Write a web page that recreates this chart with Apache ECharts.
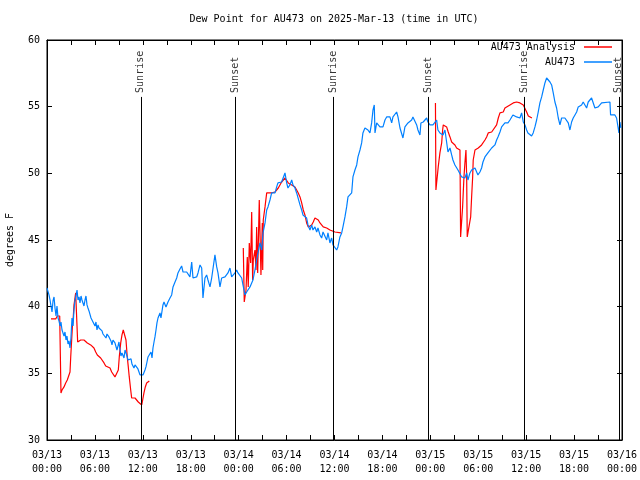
<!DOCTYPE html>
<html><head><meta charset="utf-8">
<script src="https://cdn.jsdelivr.net/npm/echarts@6/dist/echarts.min.js"></script>
<style>html,body{margin:0;padding:0;background:#fff}#c{width:640px;height:480px}</style>
</head><body><div id="c"></div>
<script>
const FONT = "'DejaVu Sans Mono', 'Liberation Mono', monospace";
const titleText = 'Dew Point for AU473 on 2025-Mar-13 (time in UTC)';
const yName = 'degrees F';
const seriesNames = ['AU473 Analysis', 'AU473'];
// time = hours since 03/13 00:00 UTC, value = dew point (F)
const au473 = [[0.00,41.40],[0.25,40.88],[0.38,40.50],[0.50,40.05],[0.63,39.60],[0.75,40.43],[0.88,40.73],[1.00,39.90],[1.13,39.30],[1.25,40.05],[1.38,39.15],[1.50,38.93],[1.63,38.55],[1.75,38.85],[1.88,38.25],[2.00,38.03],[2.13,37.80],[2.25,38.10],[2.38,37.50],[2.50,37.80],[2.63,37.20],[2.75,37.43],[2.88,36.90],[3.00,37.65],[3.13,39.15],[3.26,38.55],[3.38,39.75],[3.51,40.50],[3.63,40.80],[3.76,41.25],[3.88,40.50],[4.01,40.73],[4.13,40.28],[4.26,40.80],[4.38,40.50],[4.51,40.35],[4.63,40.05],[4.76,40.50],[4.88,40.80],[5.01,40.13],[5.13,39.90],[5.26,39.68],[5.38,39.53],[5.51,39.15],[5.63,39.30],[5.76,38.85],[5.88,39.00],[6.01,38.55],[6.13,38.85],[6.26,38.25],[6.39,38.63],[6.51,38.40],[6.64,38.25],[6.76,38.55],[6.89,38.18],[7.01,37.95],[7.14,37.80],[7.26,38.03],[7.39,37.65],[7.51,37.95],[7.64,38.03],[7.76,37.73],[7.89,37.88],[8.01,37.43],[8.14,37.13],[8.26,37.50],[8.39,37.65],[8.51,37.28],[8.64,37.20],[8.76,36.75],[8.89,37.05],[9.01,37.35],[9.14,36.75],[9.26,36.30],[9.39,36.53],[9.52,36.68],[9.64,36.15],[9.77,36.75],[9.89,36.60],[10.02,36.30],[10.14,36.00],[10.27,36.15],[10.39,35.85],[10.52,36.08],[10.64,35.70],[10.77,35.85],[10.89,35.40],[11.02,35.63],[11.14,35.48],[11.27,35.55],[11.39,35.33],[11.52,35.10],[11.64,34.88],[11.77,34.95],[11.89,35.03],[12.02,34.88],[12.14,34.95],[12.27,35.25],[12.39,35.48],[12.52,35.85],[12.65,36.23],[12.77,36.15],[12.90,36.38],[13.02,36.60],[13.15,36.15],[13.27,36.90],[13.40,37.35],[13.52,37.73],[13.65,38.25],[13.77,38.78],[13.90,39.15],[14.02,39.30],[14.15,39.53],[14.27,39.15],[14.40,39.00],[14.52,40.13],[14.65,40.35],[14.77,40.50],[14.90,39.98],[15.02,40.13],[15.15,40.35],[15.40,40.65],[15.61,40.88],[15.78,41.48],[16.03,41.85],[16.24,42.15],[16.40,42.53],[16.65,42.83],[16.86,43.05],[17.03,42.60],[17.28,42.53],[17.49,42.60],[17.65,42.75],[17.90,42.23],[18.12,43.35],[18.28,42.15],[18.53,42.23],[18.74,42.23],[18.91,42.53],[19.16,43.13],[19.37,42.90],[19.53,40.65],[19.78,42.15],[19.99,42.38],[20.16,42.00],[20.41,41.48],[20.62,42.15],[20.78,42.15],[21.03,43.88],[21.25,42.98],[21.41,42.53],[21.66,41.48],[21.87,42.15],[22.04,42.23],[22.29,42.23],[22.50,42.23],[22.66,42.53],[22.91,42.90],[23.12,42.23],[23.29,42.38],[23.54,42.53],[23.75,42.75],[23.91,42.53],[24.16,42.53],[24.38,42.15],[24.54,41.63],[24.79,40.88],[25.00,41.10],[25.17,41.25],[25.42,41.48],[25.63,41.78],[25.79,42.00],[26.04,42.75],[26.25,43.50],[26.42,44.03],[26.67,44.78],[26.88,44.25],[27.05,45.53],[27.30,46.28],[27.51,47.25],[27.67,47.48],[27.92,48.00],[28.13,48.53],[28.30,48.60],[28.55,48.53],[28.76,48.98],[28.92,49.28],[29.17,49.13],[29.38,49.35],[29.55,49.50],[29.80,50.03],[30.01,49.28],[30.17,48.90],[30.42,49.13],[30.64,49.50],[30.80,49.13],[31.05,48.90],[31.26,48.53],[31.43,48.38],[31.68,47.63],[31.89,47.25],[32.05,46.88],[32.30,47.03],[32.51,46.65],[32.68,46.13],[32.93,45.75],[33.14,46.13],[33.30,45.75],[33.55,45.98],[33.77,45.60],[33.93,45.90],[34.18,45.38],[34.39,45.15],[34.56,45.60],[34.81,45.53],[35.02,45.00],[35.18,45.53],[35.43,44.78],[35.64,45.15],[35.81,44.63],[36.06,44.48],[36.27,44.25],[36.43,44.48],[36.68,45.23],[36.90,45.53],[37.06,45.98],[37.31,46.73],[37.52,47.48],[37.69,48.23],[37.94,48.38],[38.15,48.53],[38.31,49.73],[38.56,50.25],[38.78,50.63],[38.94,51.23],[39.19,51.75],[39.40,52.28],[39.56,53.03],[39.81,53.40],[40.03,53.48],[40.19,53.25],[40.44,53.03],[40.65,53.78],[40.82,54.75],[40.98,55.13],[41.07,53.03],[41.28,53.78],[41.44,53.78],[41.69,53.48],[41.90,53.40],[42.07,53.48],[42.32,54.00],[42.53,54.23],[42.69,54.38],[42.94,54.23],[43.16,53.78],[43.32,54.23],[43.57,54.38],[43.78,54.60],[43.95,54.23],[44.20,53.40],[44.41,53.25],[44.57,52.65],[44.82,53.48],[45.03,53.40],[45.20,53.78],[45.45,53.78],[45.66,54.00],[45.82,54.23],[46.07,54.23],[46.29,53.63],[46.45,53.25],[46.70,52.88],[46.82,53.78],[47.11,53.85],[47.33,53.78],[47.54,54.15],[47.70,53.85],[47.95,53.63],[48.16,53.48],[48.33,53.63],[48.58,53.48],[48.79,54.00],[48.95,53.25],[49.20,53.03],[49.42,53.03],[49.58,52.88],[49.83,53.25],[50.04,53.10],[50.21,51.60],[50.46,51.90],[50.67,51.38],[50.83,51.00],[51.08,50.63],[51.29,50.63],[51.46,50.25],[51.71,50.10],[51.92,49.73],[52.08,49.88],[52.33,49.65],[52.55,50.03],[52.71,49.50],[52.96,50.03],[53.17,50.25],[53.34,50.10],[53.59,50.40],[53.80,50.25],[53.96,49.88],[54.21,50.10],[54.42,50.40],[54.59,50.85],[54.84,51.23],[55.05,51.38],[55.21,51.53],[55.46,51.60],[55.68,51.90],[55.84,51.75],[56.09,52.13],[56.30,52.50],[56.47,52.73],[56.72,53.10],[56.93,53.48],[57.09,53.63],[57.34,53.78],[57.55,53.85],[57.72,53.78],[57.97,54.00],[58.18,54.15],[58.34,54.38],[58.59,54.38],[58.80,54.23],[58.97,54.38],[59.22,54.15],[59.43,54.53],[59.64,53.85],[59.85,53.63],[60.06,53.25],[60.22,53.03],[60.47,52.88],[60.68,52.80],[60.88,53.03],[61.10,53.48],[61.31,54.00],[61.51,54.60],[61.72,55.28],[61.94,55.73],[62.14,56.25],[62.35,56.78],[62.56,57.15],[62.76,57.00],[62.98,56.85],[63.19,56.63],[63.39,56.03],[63.60,55.35],[63.81,54.90],[64.02,54.15],[64.23,53.63],[64.44,54.15],[64.85,54.15],[65.07,54.15],[65.27,53.78],[65.48,53.25],[65.69,53.85],[65.89,54.15],[66.11,54.38],[66.32,54.60],[66.52,54.98],[66.73,55.13],[66.94,55.13],[67.14,55.35],[67.36,55.50],[67.57,54.90],[67.77,55.35],[67.98,55.35],[68.19,55.65],[68.40,55.73],[68.61,54.90],[68.82,54.98],[69.02,54.98],[69.45,55.28],[69.65,55.35],[70.49,55.35],[70.57,54.38],[71.11,54.38],[71.32,54.15],[71.52,53.40],[71.61,53.03],[71.74,53.85],[71.86,53.40]];
const au473Analysis = [[0.50,39.08],[1.09,39.08],[1.29,39.30],[1.59,39.30],[1.75,33.53],[1.88,33.75],[2.13,33.98],[2.34,34.28],[2.54,34.50],[2.75,34.50],[2.88,35.10],[2.97,36.23],[3.17,38.40],[3.29,39.23],[3.38,40.13],[3.47,40.50],[3.59,41.03],[3.79,41.03],[3.84,37.35],[4.01,37.35],[4.22,37.50],[4.63,37.50],[4.85,37.35],[5.05,37.28],[5.47,37.13],[5.67,36.98],[5.88,36.90],[6.10,36.60],[6.30,36.38],[6.51,36.30],[6.72,36.15],[6.92,36.00],[7.14,35.78],[7.35,35.55],[7.55,35.40],[7.89,35.40],[8.10,35.10],[8.51,34.73],[8.73,34.65],[8.93,35.25],[9.05,36.23],[9.23,37.28],[9.39,37.88],[9.55,38.25],[9.77,38.25],[9.89,37.50],[10.05,36.23],[10.18,35.48],[10.30,34.73],[10.48,33.75],[10.60,33.15],[11.02,33.15],[11.23,33.00],[11.43,32.85],[11.64,32.78],[11.86,32.63],[11.98,33.00],[12.14,33.53],[12.31,33.98],[12.48,34.28],[12.81,34.43],
 [18.00,null],
 [24.58,44.40],[24.70,40.35],[24.92,41.25],[25.08,43.73],[25.20,41.48],[25.33,44.78],[25.50,43.28],[25.63,47.10],[25.75,42.00],[25.83,43.50],[26.04,44.25],[26.17,42.75],[26.25,45.98],[26.38,42.53],[26.58,48.00],[26.79,42.38],[26.96,46.28],[27.01,42.75],[27.08,46.50],[27.30,47.48],[27.51,48.53],[27.71,48.53],[28.13,48.53],[28.55,48.60],[28.96,48.90],[29.38,49.35],[29.80,49.65],[30.01,49.50],[30.21,49.28],[30.42,49.35],[30.64,49.13],[31.05,48.98],[31.26,48.75],[31.46,48.53],[31.68,48.23],[31.89,47.78],[32.09,47.25],[32.30,46.88],[32.51,46.28],[32.72,45.98],[32.93,45.90],[33.14,46.13],[33.34,46.35],[33.55,46.65],[33.77,46.73],[33.97,46.50],[34.18,46.28],[34.39,46.13],[34.59,45.98],[35.02,45.90],[35.43,45.75],[36.06,45.60],[36.81,45.53],
 [42.00,null],
 [48.64,55.28],[48.70,48.75],[48.86,48.75],[48.99,50.48],[49.20,51.53],[49.42,52.28],[49.54,53.25],[49.62,53.63],[49.83,53.63],[50.04,53.48],[50.24,53.10],[50.46,52.73],[50.67,52.35],[50.87,52.28],[51.08,52.13],[51.29,51.90],[51.49,51.75],[51.71,51.75],[51.79,45.23],[51.92,45.23],[52.04,47.48],[52.21,49.73],[52.33,50.78],[52.46,51.75],[52.55,49.73],[52.62,45.23],[52.87,45.23],[53.05,46.73],[53.17,48.23],[53.30,49.73],[53.37,51.00],[53.59,51.75],[53.80,51.60],[54.00,51.90],[54.21,51.98],[54.42,52.13],[54.63,52.28],[54.84,52.50],[55.05,52.73],[55.25,53.03],[55.46,53.03],[55.68,53.10],[55.88,53.25],[56.30,53.63],[56.51,54.15],[56.72,54.53],[56.93,54.53],[57.13,54.60],[57.34,54.90],[57.55,54.98],[57.97,55.13],[58.38,55.28],[58.59,55.35],[58.80,55.35],[59.22,55.28],[59.64,55.13],[59.85,54.98],[60.06,54.60],[60.27,54.30],[60.47,54.15],[60.72,54.15]];
const sunTimes = [11.75, 23.6, 35.9, 47.7, 59.8, 71.6];
const sunLabels = ['Sunrise', 'Sunset', 'Sunrise', 'Sunset', 'Sunrise', 'Sunset'];
const sunLineTop = 55.73;
const sunLabelBase = 56.03;
const yMin = 30, yMax = 60, yStep = 5;
const xMin = 0, xMax = 72, xStep = 3;

function xLabel(v) {
  if (v % 6 !== 0) return '';
  const d = 13 + Math.floor(v / 24);
  const h = v % 24;
  return '03/' + d + '\n' + (h < 10 ? '0' : '') + h + ':00';
}

const chart = echarts.init(document.getElementById('c'), null, {renderer: 'canvas'});
const txt = {fontFamily: FONT, fontSize: 10, color: '#000'};
const axisCommon = {
  axisLine: {show: true, onZero: false, lineStyle: {color: '#000', width: 1}},
  axisTick: {show: true, inside: true, length: 5, lineStyle: {color: '#000'}},
  splitLine: {show: false}
};
chart.setOption({
  animation: false,
  backgroundColor: '#fff',
  grid: {left: 47, right: 18, top: 40, bottom: 40, show: true, borderColor: '#000', borderWidth: 1, backgroundColor: 'transparent',
         containLabel: false, outerBoundsMode: 'none'},
  graphic: [{type: 'text', x: 334, y: 19, style: {text: titleText, font: '10px ' + FONT, fill: '#000', textAlign: 'center', textVerticalAlign: 'middle'}}],
  legend: [
    {data: [seriesNames[0]], right: 28, top: 42, align: 'right', orient: 'vertical', icon: 'rect', itemWidth: 28, itemHeight: 1.5, padding: 0, itemGap: 0,
     textStyle: Object.assign({padding: [0, 4, 0, 0]}, txt)},
    {data: [seriesNames[1]], right: 28, top: 57, align: 'right', orient: 'vertical', icon: 'rect', itemWidth: 28, itemHeight: 1.5, padding: 0, itemGap: 0,
     textStyle: Object.assign({padding: [0, 4, 0, 0]}, txt)}
  ],
  xAxis: [
    Object.assign({type: 'value', min: xMin, max: xMax, interval: xStep, position: 'bottom',
      axisLabel: Object.assign({formatter: xLabel, margin: 8, lineHeight: 14, showMaxLabel: true, showMinLabel: true}, txt)}, axisCommon),
    Object.assign({type: 'value', min: xMin, max: xMax, interval: xStep, position: 'top', axisLabel: {show: false}}, axisCommon)
  ],
  yAxis: [
    Object.assign({type: 'value', min: yMin, max: yMax, interval: yStep, position: 'left',
      name: yName, nameLocation: 'middle', nameGap: 32, nameRotate: 90, nameTextStyle: txt,
      axisLabel: Object.assign({margin: 7}, txt)}, axisCommon),
    Object.assign({type: 'value', min: yMin, max: yMax, interval: yStep, position: 'right', axisLabel: {show: false}}, axisCommon)
  ],
  series: [
    {name: seriesNames[0], type: 'line', data: au473Analysis, showSymbol: false, symbol: 'none', connectNulls: false,
     color: '#ff0000', lineStyle: {color: '#ff0000', width: 1.2}, z: 3},
    {name: seriesNames[1], type: 'line', data: au473, showSymbol: false, symbol: 'none',
     color: '#0080ff', lineStyle: {color: '#0080ff', width: 1.2}, z: 4},
    {name: 'sun', type: 'scatter', symbolSize: 0, silent: true, z: 5,
     data: sunTimes.map((t, i) => ({value: [t, sunLabelBase], name: sunLabels[i]})),
     label: Object.assign({show: true, position: [0, 0], formatter: p => p.name, rotate: 90, align: 'left', verticalAlign: 'middle'}, txt),
     markLine: {silent: true, symbol: ['none', 'none'], label: {show: false},
       lineStyle: {color: '#000', width: 1, type: 'solid'},
       data: sunTimes.map(t => [{coord: [t, yMin]}, {coord: [t, sunLineTop]}])}
    }
  ]
});
</script></body></html>
